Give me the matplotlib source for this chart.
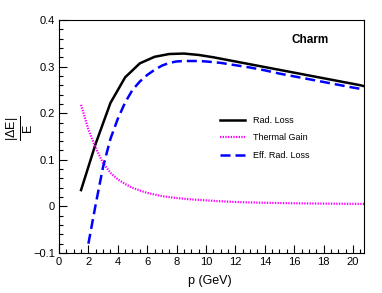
import numpy as np
import matplotlib
matplotlib.use("Agg")
import matplotlib.pyplot as plt
from matplotlib.ticker import MultipleLocator

plt.rcParams['font.family'] = ['Liberation Sans', 'DejaVu Sans']
plt.rcParams['mathtext.fontset'] = 'custom'
plt.rcParams['mathtext.rm'] = 'Liberation Sans'
plt.rcParams['mathtext.it'] = 'Liberation Sans:italic'
plt.rcParams['mathtext.bf'] = 'Liberation Sans:bold'

# radiative loss
p_rad = [1.5, 2.5, 3.5, 4.5, 5.5, 6.5, 7.5, 8.5, 9.5, 10.5, 11.5, 12.5, 13.5,
         14.5, 15.5, 16.5, 17.5, 18.5, 19.5, 20.5, 20.75]
rad_loss = [0.035, 0.135, 0.222, 0.277, 0.307, 0.321, 0.327, 0.328, 0.325, 0.320,
            0.314, 0.308, 0.302, 0.296, 0.290, 0.284, 0.278, 0.272, 0.266, 0.260, 0.258]

# thermal gain
p_th = [1.5, 2.0, 2.5, 3.0, 3.5, 4.0, 4.5, 5.0, 5.5, 6.0, 7.0, 8.0, 9.0, 10.0,
        11.0, 12.0, 13.0, 14.0, 15.0, 16.0, 18.0, 20.0, 20.75]
th_gain = [0.218, 0.165, 0.125, 0.093, 0.072, 0.058, 0.048, 0.040, 0.034, 0.029,
           0.022, 0.018, 0.015, 0.013, 0.011, 0.0095, 0.0085, 0.0078, 0.0072,
           0.0067, 0.006, 0.0055, 0.0053]

# effective radiative loss
p_eff = [2.0, 2.5, 3.0, 3.5, 4.0, 4.5, 5.0, 5.5, 6.0, 6.5, 7.0, 7.5, 8.0, 8.5,
         9.0, 9.5, 10.0, 11.0, 12.0, 13.0, 14.0, 15.0, 16.0, 17.0, 18.0, 19.0,
         20.0, 20.75]
eff_loss = [-0.08, 0.005, 0.085, 0.145, 0.188, 0.223, 0.250, 0.268, 0.282, 0.293,
            0.302, 0.308, 0.311, 0.312, 0.312, 0.312, 0.311, 0.308, 0.303, 0.298,
            0.292, 0.285, 0.279, 0.273, 0.267, 0.261, 0.255, 0.251]

fig = plt.figure(figsize=(3.82, 2.93), dpi=100)
ax = fig.add_axes([59/382, 40/293, 305/382, 233/293])

ax.plot(p_rad, rad_loss, color='black', lw=1.8, label='Rad. Loss')
ax.plot(p_th, th_gain, color='#ff00ff', lw=1.6, linestyle=(0, (0.6, 0.6)), label='Thermal Gain')
ax.plot(p_eff, eff_loss, color='#0000ff', lw=1.8, linestyle=(0, (4, 2)), label='Eff. Rad. Loss')

ax.set_xlim(0, 20.75)
ax.set_ylim(-0.1, 0.4)
ax.xaxis.set_major_locator(MultipleLocator(2))
ax.xaxis.set_minor_locator(MultipleLocator(0.5))
ax.yaxis.set_major_locator(MultipleLocator(0.1))
ax.yaxis.set_minor_locator(MultipleLocator(0.02))
ax.set_yticks([-0.1, 0, 0.1, 0.2, 0.3, 0.4])
ax.set_yticklabels(['\u22120.1', '0', '0.1', '0.2', '0.3', '0.4'])
ax.tick_params(which='both', direction='in', top=False, right=False, labelsize=8, pad=3)
ax.tick_params(which='major', length=6, width=0.8)
ax.tick_params(which='minor', length=3, width=0.8)
for s in ax.spines.values():
    s.set_linewidth(0.8)

fig.text(210/382, 12/293, 'p (GeV)', ha='center', va='center', fontsize=9)
fig.text(20/382, 165/293, r'$\frac{|\Delta\mathrm{E}|}{\mathrm{E}}$', rotation=90,
         ha='center', va='center', fontsize=13)
fig.text(310/382, 253/293, 'Charm', ha='center', va='center', fontsize=8.5, fontweight='bold')

ax.legend(loc='center left', bbox_to_anchor=(220/382, 155/293), bbox_transform=fig.transFigure,
          frameon=False, fontsize=6.5, handlelength=2.8, handletextpad=0.9,
          labelspacing=0.95, borderpad=0, borderaxespad=0)

fig.savefig('out.png', dpi=100)
